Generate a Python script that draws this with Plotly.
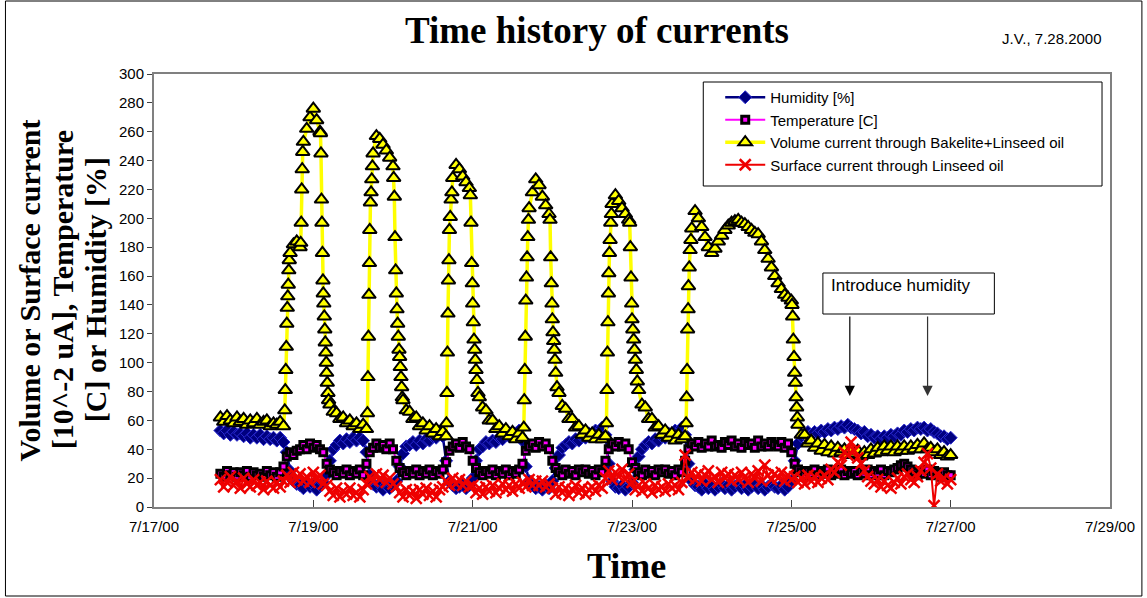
import pandas as pd
import plotly.graph_objects as go

# Logger start time; the hourly series below are one reading per hour from here
start = pd.Timestamp("2000-07-17 20:00")

humidity = [
    53, 51, 53, 50, 52, 50, 51, 49, 51, 48, 50, 48, 50, 47, 49, 47, 48, 46, 48, 45, 38, 25, 18, 16,
    15, 13, 17, 14, 16, 12, 15, 17, 22, 32, 40, 43, 46, 44, 47, 45, 48, 46, 48, 46, 38, 22, 16, 14,
    16, 12, 15, 13, 15, 18, 28, 37, 42, 43, 45, 43, 46, 44, 47, 46, 49, 48, 51, 49, 32, 18, 15, 13,
    14, 16, 13, 15, 20, 32, 40, 42, 45, 44, 46, 45, 48, 47, 50, 49, 52, 51, 53, 46, 28, 18, 15, 13,
    14, 12, 15, 13, 18, 27, 36, 41, 43, 45, 44, 47, 46, 49, 48, 51, 50, 53, 52, 55, 50, 30, 18, 14,
    13, 15, 12, 14, 17, 26, 35, 40, 43, 45, 44, 47, 46, 49, 48, 51, 50, 53, 52, 55, 50, 30, 18, 15,
    14, 12, 16, 13, 15, 12, 14, 16, 13, 15, 12, 14, 16, 13, 15, 12, 14, 16, 13, 15, 12, 14, 16, 14,
    13, 15, 12, 14, 18, 32, 44, 49, 50, 52, 50, 52, 51, 53, 52, 54, 53, 55, 54, 56, 55, 57, 55, 54,
    53, 51, 52, 49, 50, 48, 49, 47, 49, 48, 50, 49, 51, 50, 53, 52, 54, 53, 55, 54, 55, 53, 54, 52,
    51, 49, 49, 47, 48,
]

temperature = [
    23, 21, 25, 22, 24, 21, 24, 22, 25, 21, 24, 22, 23, 21, 25, 22, 24, 21, 24, 28, 35, 38, 36, 39,
    40, 43, 40, 44, 41, 43, 40, 38, 30, 26, 24, 22, 25, 23, 26, 22, 25, 23, 26, 22, 30, 38, 41, 44,
    41, 43, 40, 44, 40, 32, 27, 24, 22, 25, 23, 26, 22, 25, 23, 26, 22, 25, 23, 26, 31, 39, 42, 44,
    41, 45, 42, 40, 32, 27, 24, 22, 25, 23, 26, 22, 25, 23, 26, 22, 25, 23, 26, 30, 39, 42, 44, 41,
    45, 42, 44, 40, 32, 27, 24, 22, 26, 23, 25, 22, 26, 24, 26, 23, 25, 22, 26, 24, 32, 40, 44, 42,
    45, 42, 44, 40, 31, 27, 24, 22, 26, 23, 25, 22, 26, 24, 26, 23, 25, 22, 26, 24, 32, 40, 44, 42,
    45, 41, 44, 42, 46, 42, 43, 41, 45, 43, 46, 42, 44, 41, 45, 43, 44, 41, 46, 42, 44, 42, 45, 43,
    42, 45, 41, 44, 38, 30, 26, 24, 22, 25, 23, 26, 22, 25, 23, 26, 22, 25, 23, 26, 22, 25, 23, 25,
    22, 25, 23, 26, 22, 25, 23, 26, 22, 25, 24, 26, 27, 29, 30, 28, 26, 24, 22, 25, 23, 26, 22, 25,
    23, 21, 24, 22, 22,
]

volume_hourly = [
    62, 59, 63, 60, 58, 62, 59, 61, 57, 60, 58, 61, 57, 59, 60, 56, 58, 57, 59, 56, 127, 176, 182, 184,
    180, 253, 262, 270, 276, 268, 260, 148, 93, 71, 66, 65, 61, 62, 58, 60, 56, 58, 54, 57, 54, 192, 245, 257,
    255, 251, 247, 242, 236, 148, 104, 74, 67, 66, 61, 62, 56, 58, 53, 56, 51, 54, 49, 52, 49, 192, 228, 237,
    234, 229, 225, 221, 141, 95, 76, 69, 67, 60, 60, 54, 56, 51, 54, 49, 52, 47, 51, 48, 143, 207, 218, 227,
    223, 215, 209, 203, 130, 93, 79, 70, 68, 61, 61, 55, 56, 50, 53, 48, 51, 47, 50, 47, 49, 162, 210, 216,
    212, 207, 203, 199, 130, 102, 81, 71, 69, 61, 61, 55, 56, 50, 53, 48, 51, 46, 50, 47, 49, 153, 193, 205,
    200, 194, 187, 180, 176, 179, 184, 188, 192, 195, 197, 198, 199, 197, 196, 194, 192, 190, 189, 184, 178, 172, 166, 160,
    155, 151, 147, 145, 143, 93, 57, 50, 50, 44, 46, 41, 44, 39, 43, 38, 42, 37, 41, 38, 40, 36, 40, 37,
    39, 35, 38, 36, 40, 37, 41, 38, 42, 39, 42, 38, 42, 39, 42, 39, 42, 40, 43, 40, 44, 40, 41, 38,
    40, 36, 38, 35, 36,
]

# Extra volume-current readings taken while the heater switched on/off
volume_fast_hours = [
    19.4, 19.55, 19.7, 19.85, 20.15, 20.3, 20.45, 20.6, 20.75,
    24.2, 24.35, 24.5, 24.65, 24.8,
    30.15, 30.3, 30.45, 30.6, 30.75, 30.9, 31.15, 31.3, 31.45, 31.6, 31.75, 31.9, 32.2, 32.4, 32.6,
    44.3, 44.45, 44.6, 44.75, 44.9, 45.2, 45.4, 45.6, 45.8,
    52.2, 52.4, 52.6, 52.8, 53.2, 53.4, 53.6, 53.8, 54.2, 54.4, 54.6, 54.8,
    68.1, 68.25, 68.4, 68.55, 68.7, 68.85, 69.25, 69.5, 69.75,
    75.3, 75.5, 75.7, 75.9, 76.2, 76.4, 76.6, 76.8, 77.3, 77.6,
    91.4, 91.55, 91.7, 91.85, 92.2, 92.4, 92.6, 92.8,
    99.3, 99.5, 99.7, 99.9, 100.2, 100.4, 100.6, 100.8, 101.4,
    116.3, 116.45, 116.6, 116.75, 116.9, 117.2, 117.4, 117.6, 117.8,
    123.3, 123.5, 123.7, 123.9, 124.25, 124.5, 124.75, 125.3, 125.6,
    140.3, 140.45, 140.6, 140.75, 140.9, 141.25, 141.5, 141.75,
    172.2, 172.4, 172.6, 172.8, 173.2, 173.4, 173.6, 173.8,
]
volume_fast_values = [
    67, 81, 95, 111, 138, 146, 154, 164, 171,
    183, 197, 220, 234, 246,
    259, 245, 213, 197, 176, 157, 141, 132, 123, 114, 107, 100, 86, 79, 74,
    65, 90, 118, 147, 169, 211, 218, 227, 236,
    228, 215, 187, 164, 137, 127, 118, 109, 97, 90, 83, 76,
    58, 79, 107, 134, 157, 171, 201, 213, 218,
    216, 197, 169, 155, 128, 116, 109, 102, 88, 79,
    55, 74, 95, 118, 159, 173, 187, 199,
    199, 173, 155, 141, 121, 115, 109, 102, 83,
    58, 81, 107, 128, 148, 176, 185, 197, 203,
    197, 180, 159, 141, 123, 116, 109, 95, 87,
    58, 76, 95, 123, 137, 166, 178, 185,
    140, 132, 116, 104, 86, 76, 69, 62,
]

surface = [
    19, 14, 17, 21, 15, 18, 13, 20, 16, 14, 19, 15, 17, 12, 18, 15, 13, 17, 14, 18, 22, 17, 24, 19,
    23, 18, 21, 17, 24, 19, 22, 16, 15, 11, 8, 13, 7, 11, 9, 13, 8, 10, 7, 12, 16, 21, 18, 23,
    19, 22, 17, 20, 16, 14, 10, 7, 12, 8, 11, 6, 12, 9, 13, 8, 11, 7, 12, 14, 18, 15, 20, 16,
    19, 15, 18, 14, 15, 10, 13, 9, 14, 11, 15, 10, 13, 16, 12, 15, 11, 16, 13, 17, 14, 19, 15, 18,
    15, 18, 14, 16, 13, 9, 14, 10, 13, 8, 12, 15, 10, 13, 9, 12, 14, 11, 15, 13, 20, 25, 19, 24,
    21, 26, 19, 23, 17, 12, 15, 11, 16, 13, 10, 15, 12, 14, 11, 16, 13, 15, 12, 17, 36, 20, 24, 19,
    23, 18, 22, 25, 19, 21, 17, 24, 20, 23, 18, 22, 19, 24, 21, 17, 23, 20, 25, 18, 29, 22, 19, 23,
    20, 24, 18, 22, 19, 21, 17, 20, 16, 22, 18, 21, 17, 20, 22, 19, 26, 24, 31, 29, 38, 36, 45, 39,
    34, 30, 25, 21, 18, 16, 19, 14, 18, 15, 13, 17, 20, 16, 21, 23, 19, 17, 21, 25, 31, 37, 27, 1,
    23, 18, 20, 16, 19,
]

assert len(humidity) == len(temperature) == len(volume_hourly) == len(surface)
assert len(volume_fast_hours) == len(volume_fast_values)

hours = list(range(len(humidity)))
times = [start + pd.Timedelta(hours=h) for h in hours]

vol_pairs = sorted(list(zip(hours, volume_hourly)) + list(zip(volume_fast_hours, volume_fast_values)))
vol_times = [start + pd.Timedelta(hours=h) for h, _ in vol_pairs]
vol_values = [v for _, v in vol_pairs]

SANS = "Arial, 'Liberation Sans', sans-serif"
SERIF = "'Times New Roman', 'Liberation Serif', serif"

W, H = 1147, 598
L, R, T, B = 154, 34, 74, 91
PW, PH = W - L - R, H - T - B


def fx(x):
    return (x - L) / PW


def fy(y):
    return (T + PH - y) / PH


fig = go.Figure()

fig.add_trace(go.Scatter(
    x=times, y=humidity, mode="lines+markers", name="Humidity [%]",
    legendgroup="h",
    line=dict(color="#000080", width=2.5),
    marker=dict(symbol="diamond", size=10, color="#000080", line=dict(color="#2a2ad0", width=1)),
))
fig.add_trace(go.Scatter(
    x=times, y=temperature, mode="lines+markers", name="Temperature [C]",
    legendgroup="t",
    line=dict(color="#ff00ff", width=2),
    marker=dict(symbol="square", size=7, color="#ff00ff", line=dict(color="#000000", width=3)),
))
fig.add_trace(go.Scatter(
    x=vol_times, y=vol_values, mode="lines+markers", name="Volume current through Bakelite+Linseed oil",
    legendgroup="v",
    line=dict(color="#ffff00", width=3.5),
    marker=dict(symbol="triangle-up", size=12, color="#ffff00", line=dict(color="#000000", width=2)),
))
fig.add_trace(go.Scatter(
    x=times, y=surface, mode="lines+markers", name="Surface current through Linseed oil",
    legendgroup="s",
    line=dict(color="#ee0000", width=2),
    marker=dict(symbol="x-thin", size=11, color="#ee0000", line=dict(color="#ee0000", width=2.5)),
))

shapes = [
    # outer chart frame
    dict(type="rect", xref="paper", yref="paper", x0=fx(5), x1=fx(1145), y0=fy(596), y1=fy(1),
         line=dict(color="#000000", width=1), fillcolor="rgba(0,0,0,0)", layer="below"),
    # legend frame
    dict(type="rect", xref="paper", yref="paper", x0=fx(705), x1=fx(1105), y0=fy(186), y1=fy(82),
         line=dict(color="#000000", width=1), fillcolor="#ffffff", layer="above"),
    # note frame
    dict(type="rect", xref="paper", yref="paper", x0=fx(825), x1=fx(997), y0=fy(314), y1=fy(273),
         line=dict(color="#000000", width=1), fillcolor="#ffffff", layer="above"),
]

annotations = [
    dict(text="<b>Time history of currents</b>", xref="paper", yref="paper", x=fx(598), y=fy(30),
         xanchor="center", yanchor="middle", showarrow=False, font=dict(family=SERIF, size=37, color="#000")),
    dict(text="J.V., 7.28.2000", xref="paper", yref="paper", x=fx(1055), y=fy(38),
         xanchor="center", yanchor="middle", showarrow=False, font=dict(family=SANS, size=15, color="#000")),
    dict(text="<b>Time</b>", xref="paper", yref="paper", x=fx(628), y=fy(566),
         xanchor="center", yanchor="middle", showarrow=False, font=dict(family=SERIF, size=36, color="#000")),
    dict(text="<b>Volume or Surface current</b>", xref="paper", yref="paper", x=fx(29), y=fy(290),
         xanchor="center", yanchor="middle", textangle=-90, showarrow=False,
         font=dict(family=SERIF, size=30, color="#000")),
    dict(text="<b>[10^-2 uA], Temperature</b>", xref="paper", yref="paper", x=fx(62), y=fy(290),
         xanchor="center", yanchor="middle", textangle=-90, showarrow=False,
         font=dict(family=SERIF, size=30, color="#000")),
    dict(text="<b>[C] or Humidity [%]</b>", xref="paper", yref="paper", x=fx(95), y=fy(290),
         xanchor="center", yanchor="middle", textangle=-90, showarrow=False,
         font=dict(family=SERIF, size=30, color="#000")),
    dict(text="Introduce humidity", xref="paper", yref="paper", x=fx(831), y=fy(285),
         xanchor="left", yanchor="middle", showarrow=False, font=dict(family=SANS, size=17, color="#000")),
    dict(text="", xref="paper", yref="paper", x=fx(852), y=fy(396), ax=0, ay=-81,
         showarrow=True, arrowhead=2, arrowsize=1.7, arrowwidth=1.2, arrowcolor="#000000", standoff=0),
    dict(text="", xref="paper", yref="paper", x=fx(930), y=fy(396), ax=0, ay=-81,
         showarrow=True, arrowhead=2, arrowsize=1.7, arrowwidth=1.2, arrowcolor="#333333", standoff=0),
]

fig.update_layout(
    width=W, height=H, autosize=False,
    margin=dict(l=L, r=R, t=T, b=B, pad=0),
    paper_bgcolor="#ffffff", plot_bgcolor="#ffffff",
    font=dict(family=SANS, size=15, color="#000"),
    showlegend=True,
    legend=dict(x=fx(722), y=fy(81), xanchor="left", yanchor="top",
                bgcolor="rgba(0,0,0,0)", borderwidth=0, itemwidth=40,
                tracegroupgap=6, traceorder="normal",
                font=dict(family=SANS, size=15, color="#000")),
    shapes=shapes,
    annotations=annotations,
)

fig.update_xaxes(
    type="date", range=["2000-07-17", "2000-07-29"],
    tick0="2000-07-17", dtick=2 * 24 * 3600 * 1000, tickformat="%-m/%-d/%y",
    showgrid=False, zeroline=False,
    showline=True, linecolor="#808080", linewidth=2, mirror=True,
    ticks="inside", ticklen=7, tickcolor="#404040", tickwidth=1,
    ticklabelstandoff=5,
    tickfont=dict(family=SANS, size=15, color="#000"),
)
fig.update_yaxes(
    range=[0, 300], dtick=20, tick0=0,
    showgrid=False, zeroline=False,
    showline=True, linecolor="#808080", linewidth=2, mirror=True,
    ticks="outside", ticklen=5, tickcolor="#404040", tickwidth=1,
    tickfont=dict(family=SANS, size=15, color="#000"),
)

fig.write_html("out.html")
